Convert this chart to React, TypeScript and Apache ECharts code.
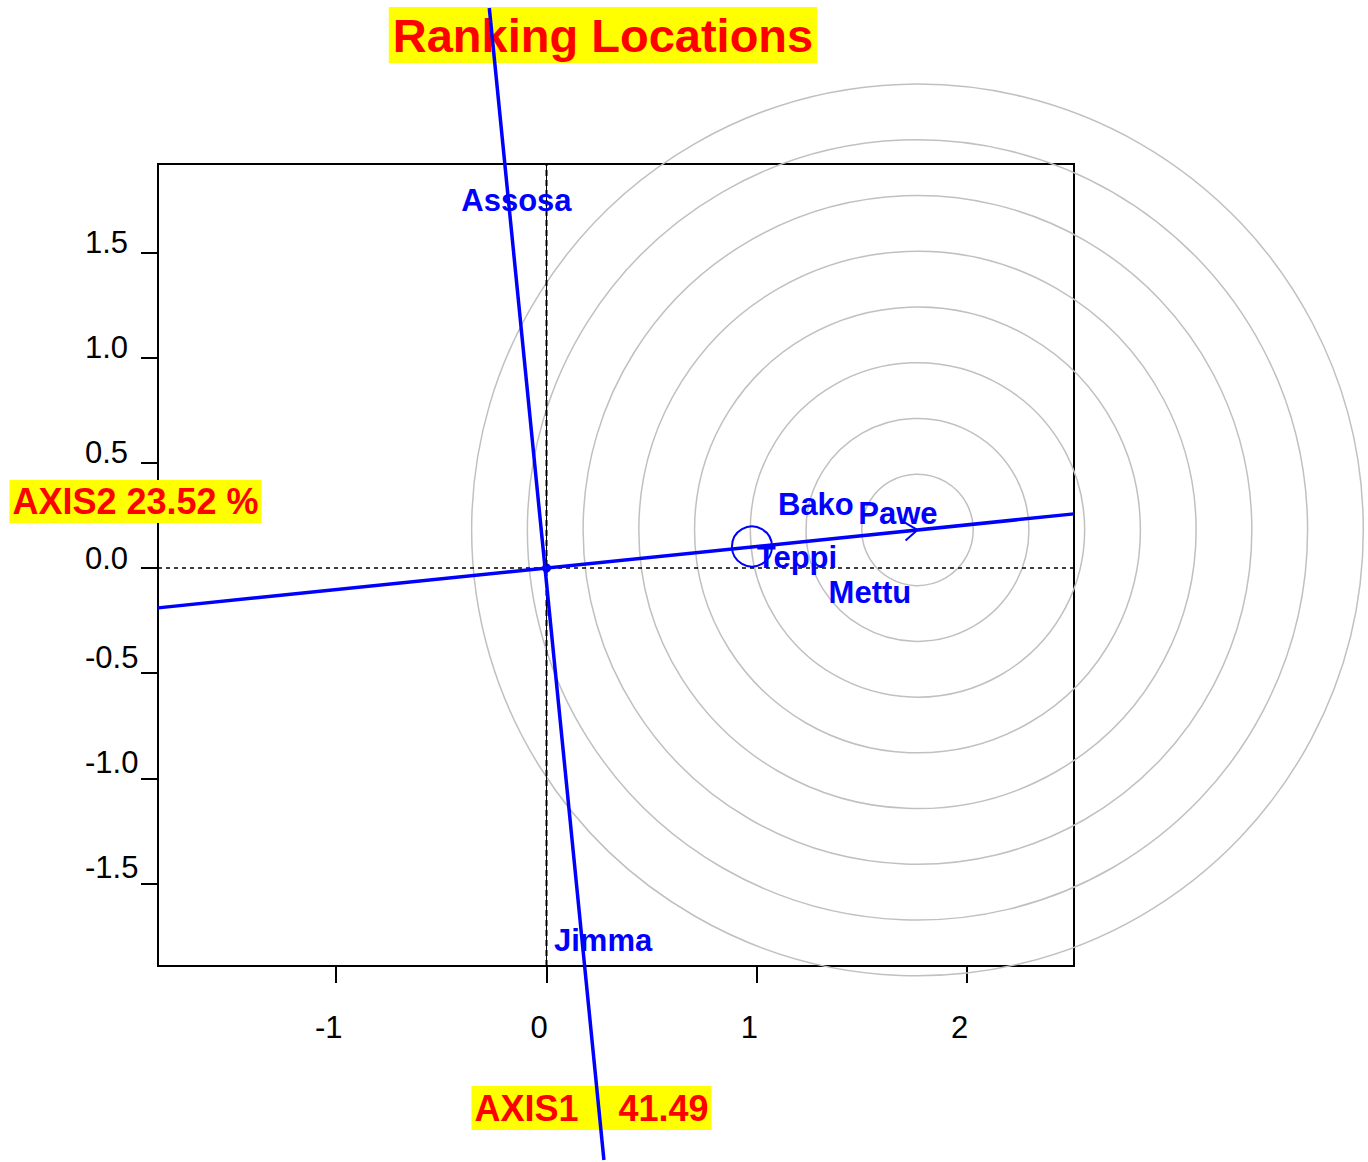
import React, { useEffect, useRef } from "react";
import * as echarts from "echarts";

// ---- data ----
const xTicks = [-1, 0, 1, 2];
const yTicks = [-1.5, -1.0, -0.5, 0, 0.5, 1.0, 1.5];
const xRange = [-1.8474, 2.5083];
const yRange = [-1.8925, 1.9211];

const envNames = ["Assosa", "Bako", "Pawe", "Teppi", "Mettu", "Jimma"];
const envX = [-0.143, 1.281, 1.671, 1.191, 1.538, 0.269];
const envY = [1.748, 0.3, 0.257, 0.052, -0.117, -1.771];

const avgEnv = [1.764, 0.181];
const ringRadii = [0.265, 0.53, 0.795, 1.06, 1.325, 1.59, 1.855, 2.12];
const atcLine = [
  [-1.8474, -0.1896],
  [2.5083, 0.2574],
];
const perpLine = [
  [-0.272, 2.663],
  [0.273, -2.815],
];
const markerPoint = [0.977, 0.102];
const originPoint = [0, 0];

const titleText = "Ranking Locations";
const xName = "AXIS1    41.49";
const yName = "AXIS2 23.52 %";

const FONT = "'Liberation Sans', Arial, Helvetica, sans-serif";
const BLUE = "#0000ff";

export default function App() {
  const ref = useRef<HTMLDivElement>(null);

  useEffect(() => {
    if (!ref.current) return;
    const chart = echarts.init(ref.current, null, { renderer: "svg" });

    const tickTextStyle = {
      fontSize: 31,
      fontFamily: FONT,
      color: "#000",
    };

    const option: any = {
      animation: false,
      backgroundColor: "#ffffff",
      grid: {
        left: 158,
        top: 164,
        width: 916,
        height: 802,
        show: true,
        borderColor: "#000",
        borderWidth: 2,
        backgroundColor: "transparent",
        outerBoundsMode: "none",
        containLabel: false,
      },
      xAxis: {
        type: "value",
        min: xRange[0],
        max: xRange[1],
        axisLine: { show: false, onZero: false },
        splitLine: { show: false },
        axisTick: {
          show: true,
          length: 17,
          inside: false,
          customValues: xTicks,
          lineStyle: { color: "#000", width: 2 },
        },
        axisLabel: {
          show: true,
          customValues: xTicks,
          margin: 46,
          ...tickTextStyle,
          padding: [0, 15, 0, 0],
          formatter: (v: number) => String(v),
        },
      },
      yAxis: {
        type: "value",
        min: yRange[0],
        max: yRange[1],
        axisLine: { show: false, onZero: false },
        splitLine: { show: false },
        axisTick: {
          show: true,
          length: 17,
          inside: false,
          customValues: yTicks,
          lineStyle: { color: "#000", width: 2 },
        },
        axisLabel: {
          show: true,
          customValues: yTicks,
          margin: 73,
          align: "left",
          verticalAlign: "bottom",
          ...tickTextStyle,
          formatter: (v: number) =>
            v < 0 ? `{n|${v.toFixed(1)}}` : `{p|${v.toFixed(1)}}`,
          rich: {
            p: { ...tickTextStyle, lineHeight: 20 },
            n: { ...tickTextStyle, lineHeight: 32 },
          },
        },
      },
      graphic: [
        {
          type: "text",
          x: 603,
          y: 35,
          z: 0,
          zlevel: 0,
          style: {
            text: titleText,
            fontSize: 47,
            fontWeight: "bold",
            fontFamily: FONT,
            fill: "#ff0000",
            align: "center",
            verticalAlign: "middle",
            backgroundColor: "#ffff00",
            padding: [5, 4, 4, 4],
          },
        },
        {
          type: "text",
          x: 135.5,
          y: 501.5,
          z: 100,
          style: {
            text: yName,
            fontSize: 36,
            fontWeight: "bold",
            fontFamily: FONT,
            fill: "#ff0000",
            align: "center",
            verticalAlign: "middle",
            backgroundColor: "#ffff00",
            padding: [4, 3, 3, 3],
          },
        },
        {
          type: "text",
          x: 591.5,
          y: 1108,
          z: 0,
          style: {
            text: xName,
            fontSize: 36,
            fontWeight: "bold",
            fontFamily: FONT,
            fill: "#ff0000",
            align: "center",
            verticalAlign: "middle",
            backgroundColor: "#ffff00",
            padding: [4, 3, 4, 3],
          },
        },
      ],
      series: [
        {
          type: "custom",
          name: "rings",
          coordinateSystem: "cartesian2d",
          clip: false,
          silent: true,
          encode: { x: 0, y: 1 },
          data: ringRadii.map((r) => [avgEnv[0], avgEnv[1], r]),
          renderItem: (_p: any, api: any) => {
            const c = api.coord([api.value(0), api.value(1)]);
            const s = api.size([api.value(2), 0]);
            return {
              type: "circle",
              shape: { cx: c[0], cy: c[1], r: s[0] },
              style: { fill: "none", stroke: "#c0c0c0", lineWidth: 1.5 },
            };
          },
        },
        {
          type: "line",
          name: "h0",
          silent: true,
          symbol: "none",
          data: [
            [xRange[0], 0],
            [xRange[1], 0],
          ],
          lineStyle: { color: "#000", width: 1.5, type: [4, 4] },
        },
        {
          type: "line",
          name: "v0solid",
          silent: true,
          symbol: "none",
          data: [
            [0, yRange[0]],
            [0, yRange[1]],
          ],
          lineStyle: { color: "#000", width: 1, type: "solid" },
        },
        {
          type: "line",
          name: "v0dash",
          silent: true,
          symbol: "none",
          data: [
            [0, yRange[0]],
            [0, yRange[1]],
          ],
          lineStyle: { color: "#000", width: 2, type: [6, 4] },
        },
        {
          type: "line",
          name: "atc",
          silent: true,
          symbol: "none",
          clip: false,
          data: atcLine,
          lineStyle: { color: BLUE, width: 3.5 },
        },
        {
          type: "line",
          name: "perp",
          silent: true,
          symbol: "none",
          clip: false,
          data: perpLine,
          lineStyle: { color: BLUE, width: 3.5 },
          z: 3,
        },
        {
          type: "scatter",
          name: "origin",
          silent: true,
          symbol: "circle",
          symbolSize: 9,
          data: [originPoint],
          itemStyle: { color: BLUE, opacity: 1 },
        },
        {
          type: "scatter",
          name: "marker",
          silent: true,
          symbol: "circle",
          symbolSize: 40,
          data: [markerPoint],
          itemStyle: {
            color: "rgba(0,0,0,0)",
            borderColor: BLUE,
            borderWidth: 2,
            opacity: 1,
          },
        },
        {
          type: "custom",
          name: "arrow",
          coordinateSystem: "cartesian2d",
          clip: false,
          silent: true,
          encode: { x: 0, y: 1 },
          data: [avgEnv],
          renderItem: (_p: any, api: any) => {
            const tip = api.coord([api.value(0), api.value(1)]);
            const o = api.coord(originPoint);
            const a = Math.atan2(o[1] - tip[1], o[0] - tip[0]);
            const d = (36 * Math.PI) / 180;
            const len = 16;
            return {
              type: "polyline",
              shape: {
                points: [
                  [tip[0] + len * Math.cos(a + d), tip[1] + len * Math.sin(a + d)],
                  [tip[0], tip[1]],
                  [tip[0] + len * Math.cos(a - d), tip[1] + len * Math.sin(a - d)],
                ],
              },
              style: { fill: "none", stroke: BLUE, lineWidth: 2 },
            };
          },
        },
        {
          type: "scatter",
          name: "environments",
          silent: true,
          symbol: "circle",
          symbolSize: 1,
          z: 5,
          itemStyle: { color: "rgba(0,0,0,0)", opacity: 1 },
          data: envNames.map((n, i) => ({ name: n, value: [envX[i], envY[i]] })),
          label: {
            show: true,
            position: "inside",
            formatter: "{b}",
            color: BLUE,
            opacity: 1,
            fontSize: 31,
            fontWeight: "bold",
            fontFamily: FONT,
          },
          labelLayout: { hideOverlap: false },
        },
      ],
    };

    chart.setOption(option);
    return () => chart.dispose();
  }, []);

  return (
    <div
      ref={ref}
      style={{ position: "fixed", left: 0, top: 0, width: 1368, height: 1162 }}
    />
  );
}
